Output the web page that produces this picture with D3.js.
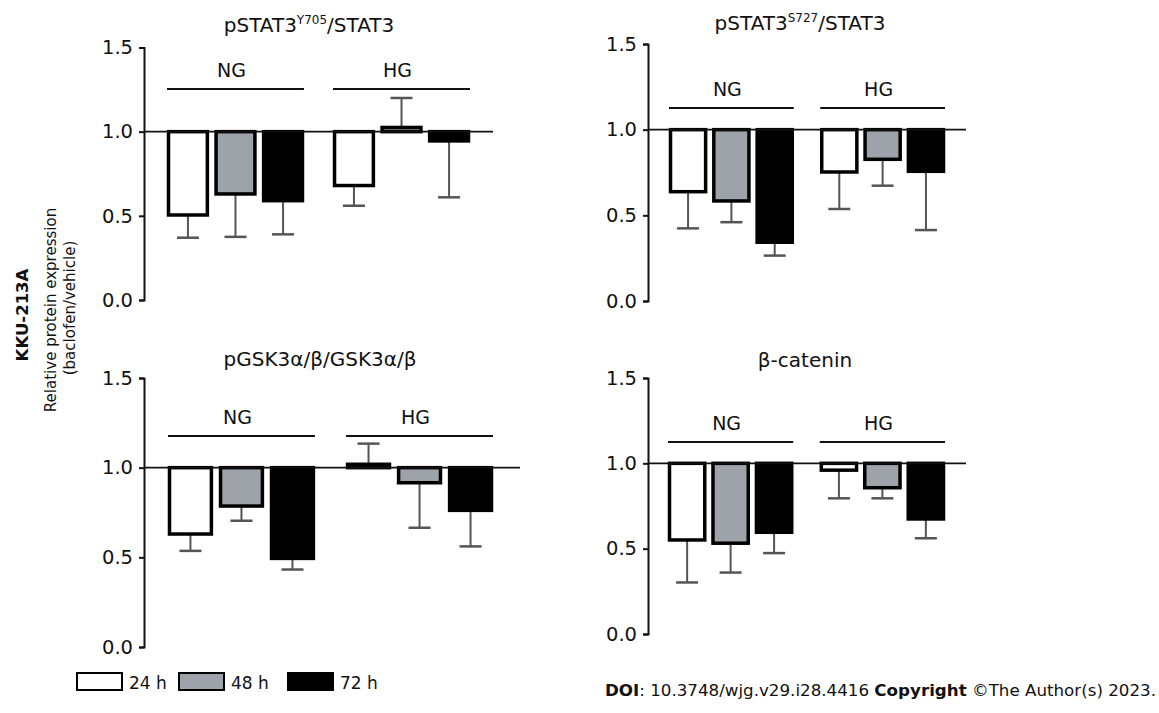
<!DOCTYPE html>
<html>
<head>
<meta charset="utf-8">
<script src="https://cdn.jsdelivr.net/npm/d3@7"></script>
<style>
  body { margin: 0; background: #fff; }
  svg text { font-family: "DejaVu Sans", Verdana, sans-serif; fill: #111; }
</style>
</head>
<body>
<svg id="chart" width="1159" height="713"></svg>
<script>
// Data
const groups = ["NG", "HG"];
const timePoints = ["24 h", "48 h", "72 h"];
const yTicks = [0, 0.5, 1.0, 1.5];

// mean ratio (baclofen/vehicle), per group then per time point
const stat3Y705Mean = [[0.505, 0.63, 0.59], [0.68, 1.025, 0.945]];
const stat3Y705Err = [[0.135, 0.255, 0.20], [0.12, 0.175, 0.335]];
const stat3S727Mean = [[0.638, 0.584, 0.343], [0.753, 0.827, 0.757]];
const stat3S727Err = [[0.214, 0.124, 0.078], [0.216, 0.154, 0.343]];
const gsk3Mean = [[0.63, 0.786, 0.494], [1.019, 0.916, 0.762]];
const gsk3Err = [[0.094, 0.082, 0.062], [0.115, 0.251, 0.201]];
const cateninMean = [[0.551, 0.532, 0.596], [0.96, 0.857, 0.674]];
const cateninErr = [[0.249, 0.172, 0.122], [0.165, 0.062, 0.113]];

const fills = ["#ffffff", "#9ea3a9", "#000000"];

const svg = d3.select("#chart");

// Panel layout (pixels)
const panels = [
  { title: ["pSTAT3", "Y705", "/STAT3"], mean: stat3Y705Mean, err: stat3Y705Err,
    axisX: 144, y0: 300, y15: 47.5, range: [167, 470], refEnd: 493,
    titleX: 309, titleY: 32, lineY: 89 },
  { title: ["pSTAT3", "S727", "/STAT3"], mean: stat3S727Mean, err: stat3S727Err,
    axisX: 648, y0: 301, y15: 44, range: [669, 945], refEnd: 966,
    titleX: 800, titleY: 30, lineY: 108 },
  { title: ["pGSK3α/β/GSK3α/β"], mean: gsk3Mean, err: gsk3Err,
    axisX: 144, y0: 647, y15: 378, range: [168, 493], refEnd: 520,
    titleX: 320, titleY: 366, lineY: 436 },
  { title: ["β-catenin"], mean: cateninMean, err: cateninErr,
    axisX: 648, y0: 634, y15: 378, range: [668, 945], refEnd: 966,
    titleX: 805, titleY: 367, lineY: 442 }
];

function drawPanel(p) {
  const g = svg.append("g");

  const y = d3.scaleLinear().domain([0, 1.5]).range([p.y0, p.y15]);
  const x = d3.scaleBand().domain(groups).range(p.range).paddingInner(0.175);
  const xi = d3.scaleBand().domain(timePoints).range([0, x.bandwidth()]).paddingInner(0.12);

  // Y axis
  const axis = g.append("g")
    .attr("transform", `translate(${p.axisX},0)`)
    .call(d3.axisLeft(y).tickValues(yTicks).tickFormat(d3.format(".1f")).tickSize(5).tickPadding(6));
  axis.select(".domain").attr("stroke", "#111").attr("stroke-width", 2);
  axis.selectAll(".tick line").attr("stroke", "#111").attr("stroke-width", 2);
  axis.selectAll(".tick text").style("font-size", "19.5px").attr("fill", "#111");

  // Title
  const t = g.append("text")
    .attr("x", p.titleX).attr("y", p.titleY)
    .attr("text-anchor", "middle")
    .style("font-size", "20px");
  t.append("tspan").text(p.title[0]);
  if (p.title.length > 1) {
    t.append("tspan").attr("dy", -8).style("font-size", "12px").text(p.title[1]);
    t.append("tspan").attr("dy", 8).text(p.title[2]);
  }

  // Group labels with bracket lines
  groups.forEach(grp => {
    const gx = x(grp);
    g.append("line")
      .attr("x1", gx).attr("x2", gx + x.bandwidth())
      .attr("y1", p.lineY).attr("y2", p.lineY)
      .attr("stroke", "#111").attr("stroke-width", 2);
    g.append("text")
      .attr("x", gx + x.bandwidth() / 2 - 4).attr("y", p.lineY - 12)
      .attr("text-anchor", "middle")
      .style("font-size", "19px")
      .text(grp);
  });

  // Bars, error bars
  groups.forEach((grp, gi) => {
    timePoints.forEach((tp, ti) => {
      const m = p.mean[gi][ti];
      const e = p.err[gi][ti];
      const bx = x(grp) + xi(tp);
      const bw = xi.bandwidth();
      const cx = bx + bw / 2;
      const end = m < 1 ? m - e : m + e;

      // error bar first so the bar covers its start
      g.append("line")
        .attr("x1", cx).attr("x2", cx)
        .attr("y1", y(m)).attr("y2", y(end))
        .attr("stroke", "#555").attr("stroke-width", 2);
      g.append("line")
        .attr("x1", cx - 11).attr("x2", cx + 11)
        .attr("y1", y(end)).attr("y2", y(end))
        .attr("stroke", "#555").attr("stroke-width", 2.5);

      g.append("rect")
        .attr("x", bx + 1.5)
        .attr("y", Math.min(y(1), y(m)))
        .attr("width", bw - 3)
        .attr("height", Math.abs(y(1) - y(m)))
        .attr("fill", fills[ti])
        .attr("stroke", "#000")
        .attr("stroke-width", 3.5);
    });
  });

  // Reference line at 1.0
  g.append("line")
    .attr("x1", p.axisX).attr("x2", p.refEnd)
    .attr("y1", y(1)).attr("y2", y(1))
    .attr("stroke", "#111").attr("stroke-width", 1.8);
}

panels.forEach(drawPanel);

// Shared y axis label
const yl = svg.append("g");
yl.append("text")
  .attr("transform", "translate(22,315) rotate(-90)")
  .attr("text-anchor", "middle").attr("dominant-baseline", "central")
  .style("font-size", "16.5px").style("font-weight", "bold")
  .text("KKU-213A");
yl.append("text")
  .attr("transform", "translate(51,310) rotate(-90)")
  .attr("text-anchor", "middle").attr("dominant-baseline", "central")
  .style("font-size", "15px")
  .text("Relative protein expression");
yl.append("text")
  .attr("transform", "translate(70,308) rotate(-90)")
  .attr("text-anchor", "middle").attr("dominant-baseline", "central")
  .style("font-size", "15px")
  .text("(baclofen/vehicle)");

// Legend
const legendX = d3.scaleOrdinal().domain(timePoints).range([77, 179, 288]);
const legend = svg.append("g");
timePoints.forEach((tp, i) => {
  legend.append("rect")
    .attr("x", legendX(tp)).attr("y", 673)
    .attr("width", 45).attr("height", 17)
    .attr("fill", fills[i]).attr("stroke", "#000").attr("stroke-width", 2);
  legend.append("text")
    .attr("x", legendX(tp) + 52).attr("y", 689)
    .style("font-size", "17px")
    .text(tp);
});

// Footer
const foot = svg.append("text")
  .attr("x", 605).attr("y", 696)
  .attr("textLength", 551).attr("lengthAdjust", "spacingAndGlyphs")
  .style("font-size", "16.5px");
foot.append("tspan").style("font-weight", "bold").text("DOI");
foot.append("tspan").text(": 10.3748/wjg.v29.i28.4416 ");
foot.append("tspan").style("font-weight", "bold").text("Copyright");
foot.append("tspan").text(" ©The Author(s) 2023.");
</script>
</body>
</html>
